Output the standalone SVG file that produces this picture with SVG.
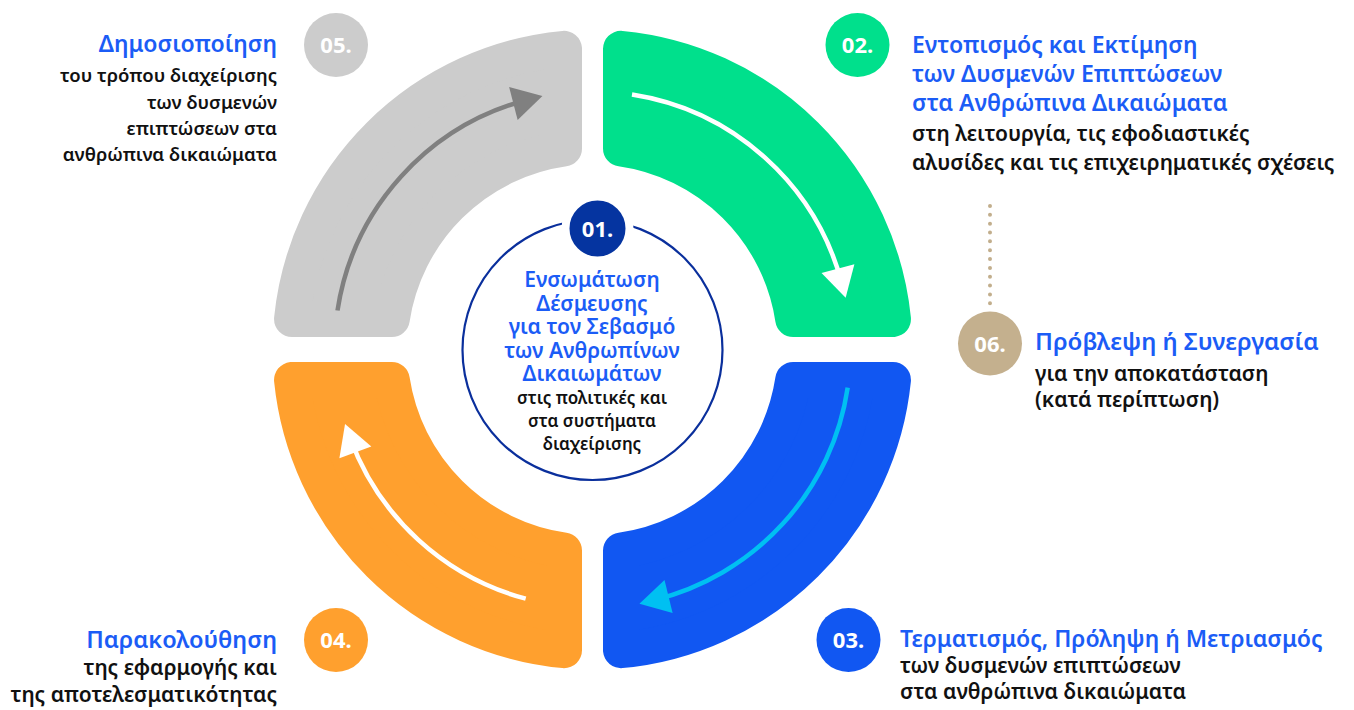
<svg xmlns="http://www.w3.org/2000/svg" width="1354" height="710" viewBox="0 0 1354 710">
<style>
  .seg { stroke-width: 36; stroke-linejoin: round; }
  .hd { font-family: "Noto Sans", "Liberation Sans", sans-serif; font-weight: 600; font-size: 23px; fill: #1b5cf6; }
  .bd { font-family: "Noto Sans", "Liberation Sans", sans-serif; font-weight: 600; font-size: 21px; fill: #111111; }
  .sm { font-size: 18.5px; }
  .chd { font-family: "Noto Sans", "Liberation Sans", sans-serif; font-weight: 600; font-size: 21px; fill: #1b5cf6; }
  .cbd { font-family: "Noto Sans", "Liberation Sans", sans-serif; font-weight: 600; font-size: 17px; fill: #111111; }
  .num { font-family: "Noto Sans", "Liberation Sans", sans-serif; font-weight: 700; font-size: 22px; fill: #ffffff; }
  .arc { fill: none; stroke-width: 4.5; }
  .e { text-anchor: end; }
  .m { text-anchor: middle; }
</style>
<defs>
  <marker id="hGray" markerUnits="userSpaceOnUse" markerWidth="34" markerHeight="36" refX="15" refY="17" orient="auto" overflow="visible">
    <path d="M0,0 L30,17 L0,34 Z" fill="#808080"/>
  </marker>
  <marker id="hWhite" markerUnits="userSpaceOnUse" markerWidth="34" markerHeight="36" refX="15" refY="17" orient="auto" overflow="visible">
    <path d="M0,0 L30,17 L0,34 Z" fill="#ffffff"/>
  </marker>
  <marker id="hCyan" markerUnits="userSpaceOnUse" markerWidth="34" markerHeight="36" refX="15" refY="17" orient="auto" overflow="visible">
    <path d="M0,0 L30,17 L0,34 Z" fill="#00c0f2"/>
  </marker>
</defs>
<rect x="0" y="0" width="1354" height="710" fill="#ffffff"/>

<g id="step05">
  <path class="seg" fill="#cccccc" stroke="#cccccc" d="M292.04,319 A302,302 0 0 1 564,48.85 L564,148.51 A203,203 0 0 0 391.8,319 Z"/>
  <circle cx="336" cy="45" r="32" fill="#cccccc"/>
  <text class="num m" x="336" y="53">05.</text>
  <text class="hd e" x="277" y="52">Δημοσιοποίηση</text>
  <text class="bd sm e" x="277" y="82">του τρόπου διαχείρισης</text>
  <text class="bd sm e" x="277" y="109">των δυσμενών</text>
  <text class="bd sm e" x="277" y="135">επιπτώσεων στα</text>
  <text class="bd sm e" x="277" y="161">ανθρώπινα δικαιώματα</text>
</g>

<g id="step02">
  <path class="seg" fill="#00e08c" stroke="#00e08c" d="M621,48.85 A302,302 0 0 1 892.96,319 L793.2,319 A203,203 0 0 0 621,148.51 Z"/>
  <circle cx="857.5" cy="45" r="32" fill="#00e08c"/>
  <text class="num m" x="857.5" y="53">02.</text>
  <text class="hd" x="912" y="53">Εντοπισμός και Εκτίμηση</text>
  <text class="hd" x="912" y="82">των Δυσμενών Επιπτώσεων</text>
  <text class="hd" x="912" y="111">στα Ανθρώπινα Δικαιώματα</text>
  <text class="bd" x="912" y="141">στη λειτουργία, τις εφοδιαστικές</text>
  <text class="bd" x="912" y="170">αλυσίδες και τις επιχειρηματικές σχέσεις</text>
</g>

<g id="step03">
  <path class="seg" fill="#1157f2" stroke="#1157f2" d="M892.96,380 A302,302 0 0 1 621,650.15 L621,550.49 A203,203 0 0 0 793.2,380 Z"/>
  <circle cx="848.5" cy="640" r="32" fill="#1157f2"/>
  <text class="num m" x="848.5" y="648">03.</text>
  <text class="hd" x="900" y="647">Τερματισμός, Πρόληψη ή Μετριασμός</text>
  <text class="bd" x="900" y="673">των δυσμενών επιπτώσεων</text>
  <text class="bd" x="900" y="699">στα ανθρώπινα δικαιώματα</text>
</g>

<g id="step04">
  <path class="seg" fill="#ffa02e" stroke="#ffa02e" d="M564,650.15 A302,302 0 0 1 292.04,380 L391.8,380 A203,203 0 0 0 564,550.49 Z"/>
  <circle cx="336" cy="640" r="32" fill="#ffa02e"/>
  <text class="num m" x="336" y="648">04.</text>
  <text class="hd e" x="277" y="648" style="font-size:23.5px">Παρακολούθηση</text>
  <text class="bd e" x="277" y="675">της εφαρμογής και</text>
  <text class="bd e" x="277" y="702">της αποτελεσματικότητας</text>
</g>

<g id="step06">
  <circle cx="990" cy="343.5" r="32" fill="#c4b08e"/>
  <text class="num m" x="990" y="351.5">06.</text>
  <text class="hd" x="1035" y="350" style="font-size:24px">Πρόβλεψη ή Συνεργασία</text>
  <text class="bd" x="1035" y="381">για την αποκατάσταση</text>
  <text class="bd" x="1035" y="407">(κατά περίπτωση)</text>
</g>

<g id="step01">
  <circle cx="592.5" cy="350" r="130" fill="#ffffff" stroke="#0a2f9c" stroke-width="2.2"/>
  <circle cx="597.5" cy="228.5" r="32" fill="#0534a0" stroke="#ffffff" stroke-width="8"/>
  <text class="num m" x="597.5" y="236.5">01.</text>
  <text class="chd m" x="592" y="287">Ενσωμάτωση</text>
  <text class="chd m" x="592" y="310.5">Δέσμευσης</text>
  <text class="chd m" x="592" y="334">για τον Σεβασμό</text>
  <text class="chd m" x="592" y="357.5">των Ανθρωπίνων</text>
  <text class="chd m" x="592" y="381">Δικαιωμάτων</text>
  <text class="cbd m" x="592" y="404">στις πολιτικές και</text>
  <text class="cbd m" x="592" y="427">στα συστήματα</text>
  <text class="cbd m" x="592" y="450">διαχείρισης</text>
</g>

<g id="connectors">
  <path class="arc" stroke="#808080" marker-end="url(#hGray)" d="M337.5,310.5 A258,258 0 0 1 527.9,99.7"/>
  <path class="arc" stroke="#ffffff" marker-end="url(#hWhite)" d="M632,94.5 A258,258 0 0 1 841.8,283.2"/>
  <path class="arc" stroke="#00c0f2" marker-end="url(#hCyan)" d="M847.7,387.6 A258,258 0 0 1 654,600.1"/>
  <path class="arc" stroke="#ffffff" marker-end="url(#hWhite)" d="M525.7,598.7 A258,258 0 0 1 350.2,438.2"/>
  <line x1="990" y1="206" x2="990" y2="304" stroke="#c2ae8c" stroke-width="4" stroke-linecap="round" stroke-dasharray="0 8.84"/>
</g>
</svg>
